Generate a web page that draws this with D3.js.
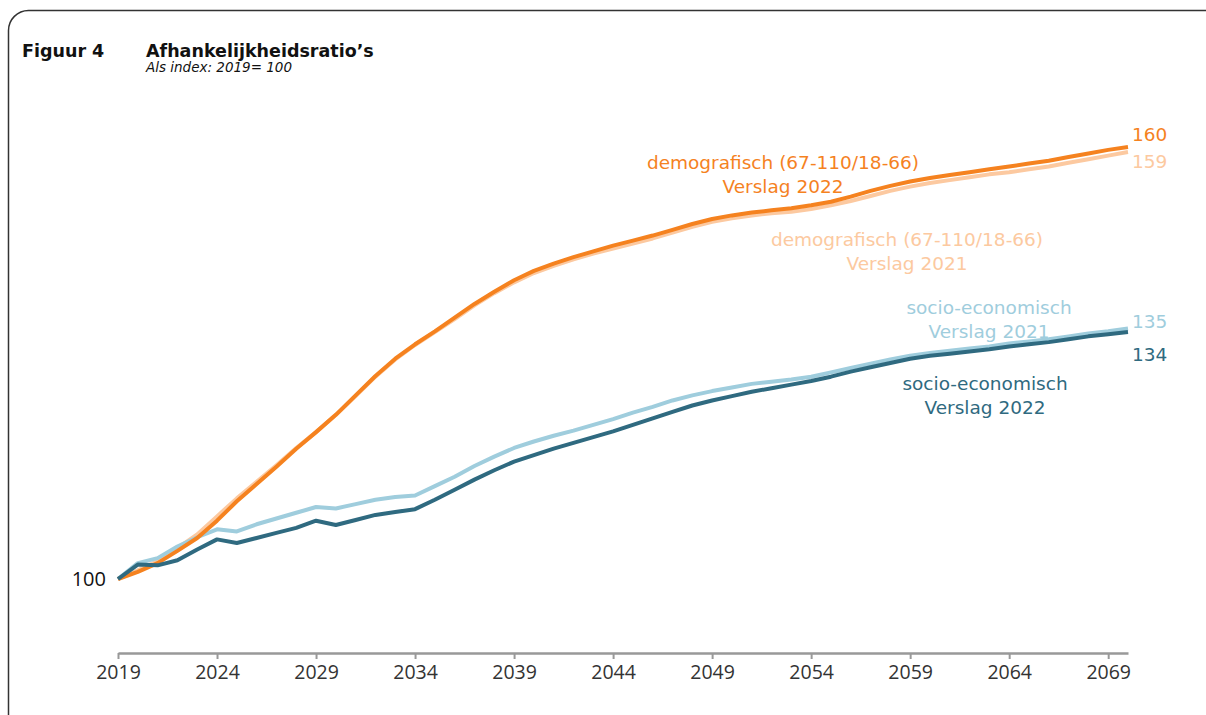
<!DOCTYPE html>
<html>
<head>
<meta charset="utf-8">
<script src="https://cdn.jsdelivr.net/npm/d3@7"></script>
<style>
  body { margin: 0; background: #fff; }
  svg { display: block; }
</style>
</head>
<body>
<div id="container"></div>
<script>
// Figuur 4 - Afhankelijkheidsratio's (index 2019 = 100)

const years = [2019, 2020, 2021, 2022, 2023, 2024, 2025, 2026, 2027, 2028,
    2029, 2030, 2031, 2032, 2033, 2034, 2035, 2036, 2037, 2038,
    2039, 2040, 2041, 2042, 2043, 2044, 2045, 2046, 2047, 2048,
    2049, 2050, 2051, 2052, 2053, 2054, 2055, 2056, 2057, 2058,
    2059, 2060, 2061, 2062, 2063, 2064, 2065, 2066, 2067, 2068,
    2069, 2070]

const demo2022 = [100, 101.0, 102.2, 103.9, 105.7, 108.1, 110.8, 113.2, 115.6, 118.1,
    120.4, 122.8, 125.5, 128.2, 130.6, 132.6, 134.4, 136.3, 138.2, 139.9,
    141.5, 142.8, 143.8, 144.7, 145.5, 146.3, 147.0, 147.7, 148.5, 149.3,
    150.0, 150.5, 150.9, 151.2, 151.5, 151.9, 152.4, 153.1, 153.9, 154.6,
    155.2, 155.7, 156.1, 156.5, 156.9, 157.3, 157.7, 158.1, 158.6, 159.1,
    159.6, 160.0]

const demo2021 = [100, 101.2, 102.5, 104.3, 106.2, 108.7, 111.2, 113.5, 115.8, 118.2,
    120.4, 122.8, 125.4, 128.1, 130.5, 132.5, 134.3, 136.1, 138.0, 139.7,
    141.2, 142.5, 143.5, 144.4, 145.2, 145.9, 146.6, 147.3, 148.1, 148.9,
    149.6, 150.1, 150.5, 150.8, 151.0, 151.4, 151.9, 152.5, 153.2, 153.9,
    154.5, 155.0, 155.4, 155.8, 156.2, 156.5, 156.9, 157.3, 157.8, 158.3,
    158.8, 159.3]

const socio2022 = [100, 102.0, 101.9, 102.6, 104.1, 105.5, 105.0, 105.7, 106.4, 107.1,
    108.1, 107.5, 108.2, 108.9, 109.3, 109.7, 111.0, 112.4, 113.8, 115.1,
    116.3, 117.2, 118.1, 118.9, 119.7, 120.5, 121.4, 122.3, 123.2, 124.1,
    124.8, 125.4, 126.0, 126.5, 127.0, 127.5, 128.1, 128.8, 129.4, 130.0,
    130.6, 131.0, 131.3, 131.6, 131.9, 132.3, 132.6, 132.9, 133.3, 133.7,
    134.0, 134.3]

const socio2021 = [100, 102.2, 102.9, 104.5, 105.8, 106.9, 106.6, 107.6, 108.4, 109.2,
    110.0, 109.8, 110.4, 111.0, 111.4, 111.6, 112.9, 114.2, 115.7, 117.0,
    118.2, 119.1, 119.9, 120.6, 121.4, 122.2, 123.1, 123.9, 124.8, 125.5,
    126.1, 126.6, 127.1, 127.4, 127.7, 128.1, 128.7, 129.3, 129.9, 130.5,
    131.0, 131.4, 131.7, 132.0, 132.3, 132.7, 133.0, 133.3, 133.7, 134.1,
    134.4, 134.8]

const tickYears = [2019, 2024, 2029, 2034, 2039, 2044, 2049, 2054, 2059, 2064, 2069]

const width = 1206,
    height = 715
const padding = {
    top: 147,
    right: 78,
    bottom: 136,
    left: 118,
}

const font = "'Open Sans', 'DejaVu Sans', sans-serif"
const labelFont = "'DejaVu Sans', sans-serif"
const titleFont = "'DejaVu Sans', sans-serif"

const svg = d3.select("#container").append("svg")
    .attr("width", width)
    .attr("height", height)
    .style("background", "#fff")

// frame with rounded corner (runs off the right/bottom edge)
svg.append("rect")
    .attr("x", 8.5).attr("y", 10.5)
    .attr("width", 1240).attr("height", 740)
    .attr("rx", 20).attr("ry", 20)
    .attr("fill", "none")
    .attr("stroke", "#333")
    .attr("stroke-width", 1.5)

const header = svg.append("g").attr("id", "heading")
    .style("font-family", titleFont)

header.append("text")
    .attr("x", 22).attr("y", 57)
    .text("Figuur 4")
    .style("font-size", "17.5px")
    .style("font-weight", "bold")
    .attr("fill", "#111")

header.append("text")
    .attr("x", 146).attr("y", 57)
    .text("Afhankelijkheidsratio\u2019s")
    .style("font-size", "17.5px")
    .style("font-weight", "bold")
    .attr("fill", "#111")

header.append("text")
    .attr("x", 146).attr("y", 72)
    .text("Als index: 2019= 100")
    .style("font-size", "13.5px")
    .style("font-style", "italic")
    .attr("fill", "#111")

const x = d3.scaleLinear()
    .domain([2019, 2070])
    .range([padding.left, width - padding.right])

const y = d3.scaleLinear()
    .domain([100, 160])
    .range([height - padding.bottom, padding.top])

// x axis
const xAxis = d3.axisBottom(x)
    .tickValues(tickYears)
    .tickFormat(d3.format("d"))
    .tickSize(6)
    .tickSizeOuter(0)

const axisG = svg.append("g").attr("id", "x-axis")
    .attr("transform", `translate(0,653)`)
    .call(xAxis)

axisG.select(".domain")
    .attr("stroke", "#999")
    .attr("stroke-width", 2.5)
axisG.selectAll(".tick line")
    .attr("stroke", "#999")
    .attr("stroke-width", 2)
axisG.selectAll(".tick text")
    .attr("fill", "#333")
    .attr("dy", "0.85em")
    .style("font-family", font)
    .style("font-size", "19.5px")

// 100 label
svg.append("text")
    .attr("x", 106).attr("y", y(100))
    .attr("dy", "0.35em")
    .attr("text-anchor", "end")
    .text("100")
    .style("font-family", font)
    .style("font-size", "20px")
    .attr("fill", "#111")

const series = [
    { name: "demo2021", values: demo2021, color: "#fcc9a0" },
    { name: "socio2021", values: socio2021, color: "#9fcddd" },
    { name: "demo2022", values: demo2022, color: "#f5821f" },
    { name: "socio2022", values: socio2022, color: "#2f6a80" },
]

const line = d3.line()
    .x((d, i) => x(years[i]))
    .y((d) => y(d))

svg.append("g").attr("id", "lines")
    .selectAll("path")
    .data(series)
    .enter()
    .append("path")
    .attr("d", (d) => line(d.values))
    .attr("fill", "none")
    .attr("stroke", (d) => d.color)
    .attr("stroke-width", 4)
    .attr("stroke-linejoin", "round")
    .attr("stroke-linecap", "butt")

// series labels
const labels = [
    { lines: ["demografisch (67-110/18-66)", "Verslag 2022"], x: 783, y: 169, color: "#f5821f" },
    { lines: ["demografisch (67-110/18-66)", "Verslag 2021"], x: 907, y: 246, color: "#fcc9a0" },
    { lines: ["socio-economisch", "Verslag 2021"], x: 989, y: 314, color: "#9fcddd" },
    { lines: ["socio-economisch", "Verslag 2022"], x: 985, y: 390, color: "#2f6a80" },
]

labels.forEach((l) => {
    const t = svg.append("text")
        .attr("text-anchor", "middle")
        .attr("fill", l.color)
        .style("font-family", labelFont)
        .style("font-size", "18.5px")
    l.lines.forEach((s, i) => {
        t.append("tspan")
            .attr("x", l.x)
            .attr("y", l.y + i * 24)
            .text(s)
    })
})

// end values
const lastIdx = years.length - 1
const endLabels = [
    { value: demo2022[lastIdx], dy: -12, color: "#f5821f" },
    { value: demo2021[lastIdx], dy: 9, color: "#fcc9a0" },
    { value: socio2021[lastIdx], dy: -7, color: "#9fcddd" },
    { value: socio2022[lastIdx], dy: 22, color: "#2f6a80" },
]

svg.append("g").attr("id", "end-labels")
    .selectAll("text")
    .data(endLabels)
    .enter()
    .append("text")
    .attr("x", x(2070) + 4)
    .attr("y", (d) => y(d.value) + d.dy)
    .attr("dy", "0.35em")
    .text((d) => Math.round(d.value))
    .attr("fill", (d) => d.color)
    .style("font-family", labelFont)
    .style("font-size", "18.5px")
</script>
</body>
</html>
